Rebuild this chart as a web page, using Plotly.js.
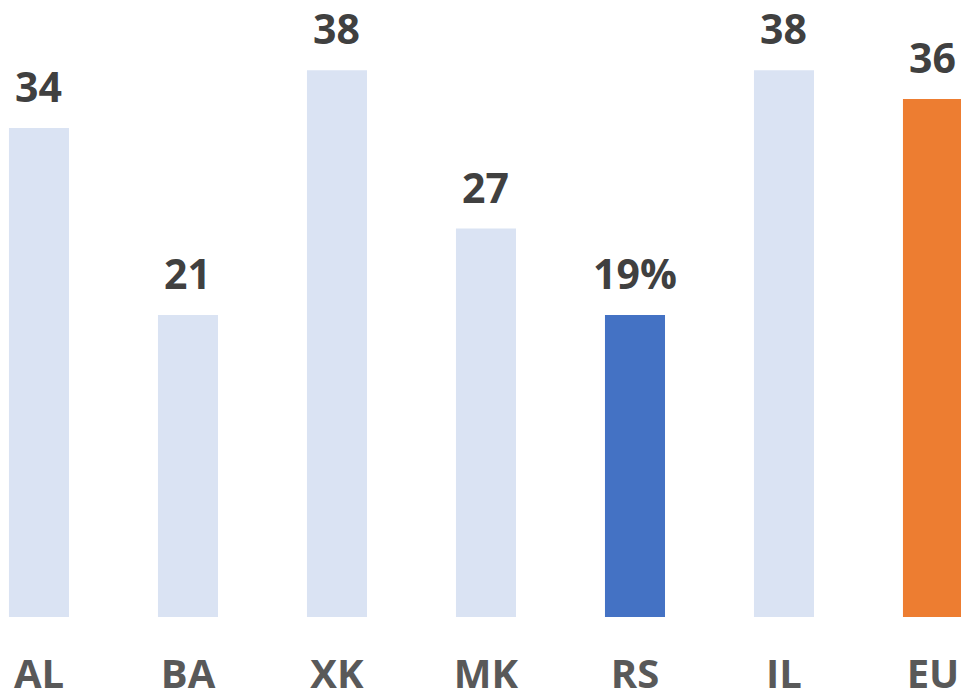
<!DOCTYPE html>
<html>
<head>
<meta charset="utf-8">
<script src="https://cdn.plot.ly/plotly-3.0.1.min.js"></script>
<style>html,body{margin:0;padding:0;background:#fff;}#chart{width:961px;height:697px;}</style>
</head>
<body>
<div id="chart"></div>
<script>
const categories = ["AL", "BA", "XK", "MK", "RS", "IL", "EU"];
const values = [34, 21, 38, 27, 21, 38, 36];
const valueLabels = ["34", "21", "38", "27", "19%", "38", "36"];
const barColors = ["#DAE3F3", "#DAE3F3", "#DAE3F3", "#DAE3F3", "#4472C4", "#DAE3F3", "#ED7D31"];

const FONT = "'Open Sans', 'Liberation Sans', sans-serif";

const trace = {
  type: "bar",
  x: categories,
  y: values,
  width: 0.403,
  marker: {color: barColors, line: {width: 0}},
  hoverinfo: "none"
};

const annotations = categories.map((c, i) => ({
  x: c, y: values[i], xref: "x", yref: "y",
  text: "<b>" + valueLabels[i] + "</b>",
  showarrow: false, yanchor: "bottom", xanchor: "center",
  yshift: 12,
  font: {family: FONT, size: 41, color: "#404040"}
}));

const layout = {
  width: 961, height: 697,
  margin: {l: 0, r: 0, t: 0, b: 80, pad: 0},
  paper_bgcolor: "#ffffff", plot_bgcolor: "#ffffff",
  showlegend: false,
  xaxis: {
    type: "category",
    range: [-0.2617, 6.188],
    showgrid: false, zeroline: false, showline: false,
    ticks: "", ticklabelstandoff: 30,
    tickfont: {family: FONT, size: 40, color: "#595959", weight: "bold"},
    fixedrange: true
  },
  yaxis: {
    range: [0, 42.89],
    showgrid: false, zeroline: false, showline: false,
    showticklabels: false, ticks: "",
    fixedrange: true
  },
  annotations: annotations
};

Plotly.newPlot("chart", [trace], layout, {displayModeBar: false, staticPlot: true});
</script>
</body>
</html>
